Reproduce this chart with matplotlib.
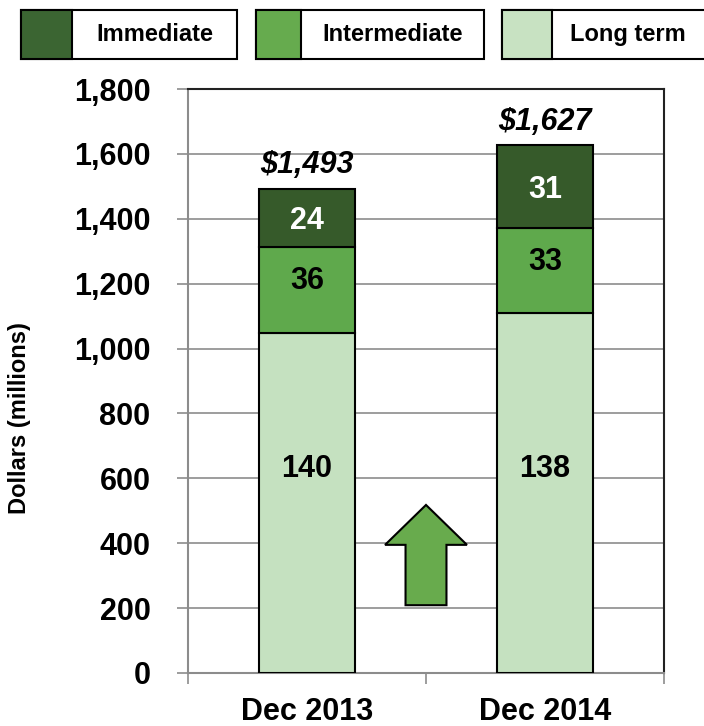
import matplotlib
matplotlib.use("Agg")
import matplotlib.pyplot as plt
import matplotlib.patches as mpatches

plt.rcParams["font.family"] = ["Liberation Sans", "DejaVu Sans"]
plt.rcParams["font.weight"] = "bold"

# data (dollars, millions)
periods = ["Dec 2013", "Dec 2014"]
series = ["Long term", "Intermediate", "Immediate"]
long_term = [1048, 1109]
intermediate = [265, 264]
immediate = [180, 254]
totals = [1493, 1627]
# counts printed inside each segment
long_term_n = [140, 138]
intermediate_n = [36, 33]
immediate_n = [24, 31]

colors = {"Long term": "#c5e1c0", "Intermediate": "#5fa94c", "Immediate": "#365a2a"}
legend_colors = {"Long term": "#c8e2c2", "Intermediate": "#66ab4e", "Immediate": "#3b6532"}
label_frac = {"Long term": 0.6, "Intermediate": 0.6, "Immediate": 0.45}

W, H = 704, 726
fig = plt.figure(figsize=(W / 100, H / 100), dpi=100)
ax = fig.add_axes([188 / W, 1 - 673 / H, (664 - 188) / W, (673 - 89) / H])

xs = list(range(len(periods)))
values = [long_term, intermediate, immediate]
counts = [long_term_n, intermediate_n, immediate_n]
bottoms = [0] * len(periods)
for name, vals, ns in zip(series, values, counts):
    ax.bar(xs, vals, width=0.4, bottom=bottoms, color=colors[name],
           edgecolor="black", linewidth=1.5, zorder=3)
    for i in xs:
        if name == "Long term":
            y = min(vals) * label_frac[name]
        else:
            y = bottoms[i] + vals[i] * label_frac[name]
        tc = "white" if name == "Immediate" else "black"
        ax.text(i, y, str(ns[i]), ha="center", va="center", fontsize=22,
                fontweight="bold", color=tc, zorder=4)
    bottoms = [b + v for b, v in zip(bottoms, vals)]

for i in xs:
    ax.annotate(f"${totals[i]:,}", (i, totals[i]), xytext=(0, 6),
                textcoords="offset points", ha="center", va="bottom",
                fontsize=22, fontweight="bold", style="italic")

# growth arrow between the bars
arrow = mpatches.FancyArrow(0.5, 209, 0, 309, width=0.172, head_width=0.344,
                            head_length=123, length_includes_head=True,
                            facecolor="#68ab4d", edgecolor="black",
                            linewidth=1.5, zorder=3)
ax.add_patch(arrow)

ax.set_xlim(-0.5, 1.5)
ax.set_ylim(0, 1800)
ax.set_yticks(range(0, 1801, 200))
ax.set_yticklabels([f"{v:,}" for v in range(0, 1801, 200)])
ax.yaxis.grid(True, color="#8c8c8c", linewidth=1.2)
ax.set_axisbelow(True)
ax.set_xticks(xs)
ax.set_xticklabels(periods)
ax.set_xticks([-0.5, 0.5, 1.5], minor=True)
ax.tick_params(axis="x", which="major", length=0, labelsize=22, pad=17)
ax.tick_params(axis="x", which="minor", length=8, width=1.2, color="#8c8c8c")
ax.tick_params(axis="y", length=8, width=1.2, color="#8c8c8c", labelsize=22, pad=19)
for lab in ax.get_xticklabels() + ax.get_yticklabels():
    lab.set_fontweight("bold")

for s in ["left", "bottom"]:
    ax.spines[s].set_color("#8c8c8c")
    ax.spines[s].set_linewidth(1.5)
for s in ["top", "right"]:
    ax.spines[s].set_color("#222222")
    ax.spines[s].set_linewidth(1.5)

fig.text(20 / W, 1 - 418 / H, "Dollars (millions)", rotation=90, ha="center",
         va="center", fontsize=17, fontweight="bold")

# legend boxes across the top
box_left = [21, 256, 502]
box_right = [237, 484, 712]
swatch_w = [51, 45, 50]
top_y, bot_y = 10, 59
for name, x0, x1, sw in zip(["Immediate", "Intermediate", "Long term"],
                            box_left, box_right, swatch_w):
    fig.add_artist(mpatches.Rectangle((x0 / W, 1 - bot_y / H), (x1 - x0) / W,
                                      (bot_y - top_y) / H, transform=fig.transFigure,
                                      facecolor="white", edgecolor="black", linewidth=1.5))
    fig.add_artist(mpatches.Rectangle((x0 / W, 1 - bot_y / H), sw / W,
                                      (bot_y - top_y) / H, transform=fig.transFigure,
                                      facecolor=legend_colors[name], edgecolor="black",
                                      linewidth=1.5))
    cx = (x0 + sw + min(x1, W)) / 2
    if name == "Long term":
        cx = 628
    fig.text(cx / W, 1 - (top_y + bot_y) / 2 / H, name, ha="center", va="center",
             fontsize=17, fontweight="bold")

fig.savefig("out.png", dpi=100)
